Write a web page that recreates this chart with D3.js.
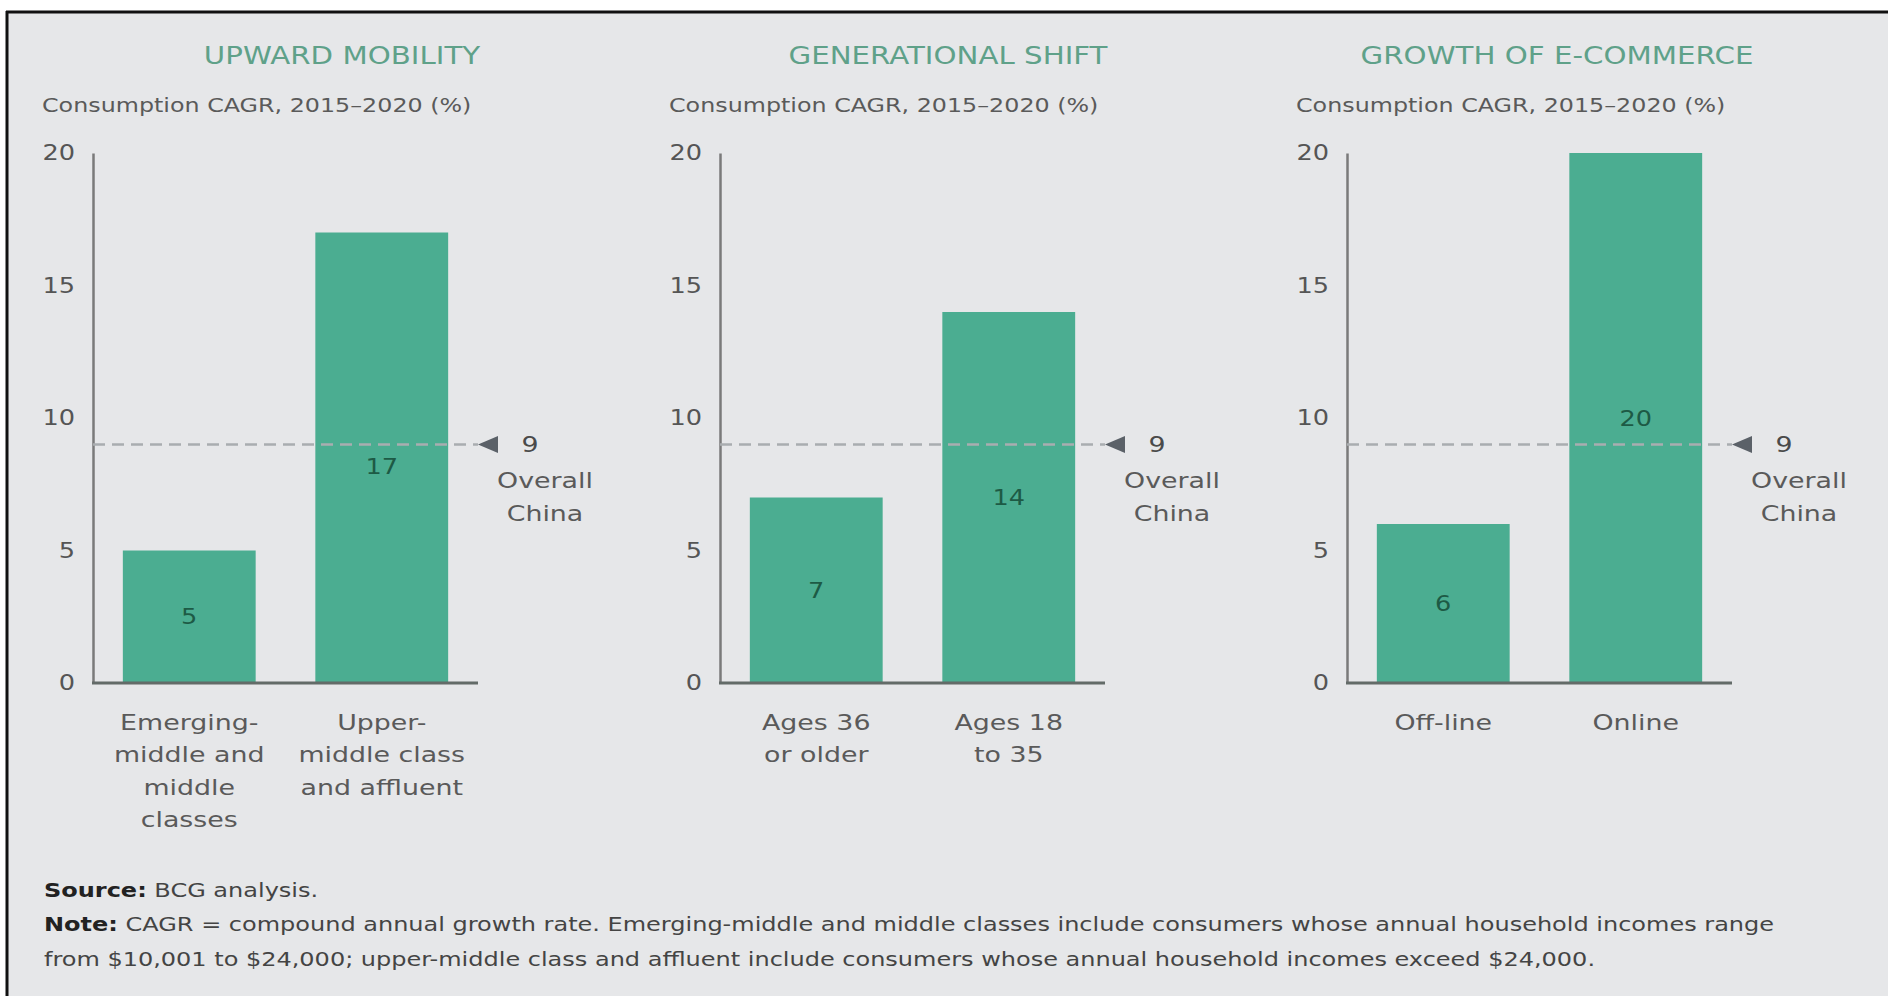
<!DOCTYPE html>
<html>
<head>
<meta charset="utf-8">
<title>China consumption growth drivers</title>
<script src="https://d3js.org/d3.v7.min.js"></script>
<style>
  body { margin: 0; background: #fff; }
  svg { display: block; font-family: "DejaVu Sans", sans-serif; }
</style>
</head>
<body>
<svg id="chart" width="1888" height="996"></svg>
<script>
// data
var panelTitles = ["UPWARD MOBILITY", "GENERATIONAL SHIFT", "GROWTH OF E-COMMERCE"]
var subtitle = "Consumption CAGR, 2015\u20132020 (%)"
var categories = [
  [["Emerging-", "middle and", "middle", "classes"], ["Upper-", "middle class", "and affluent"]],
  [["Ages 36", "or older"], ["Ages 18", "to 35"]],
  [["Off-line"], ["Online"]]
]
var values = [[5, 17], [7, 14], [6, 20]]
var overall = 9
var overallLabel = ["Overall", "China"]
var yTicks = [0, 5, 10, 15, 20]

// layout
var panelX = [93, 720, 1347]      // left edge of each plot area
var titleDx = [249, 228, 210]     // title centres relative to plot area
var plotW = 385
var SX = 1.22                     // the source type is set wide, so stretch text sideways

var svg = d3.select("#chart")

// stretch a text element sideways around its anchor x
function stretch(sel, ax, sx) {
  sel.attr("transform", "translate(" + ax + ",0) scale(" + (sx || SX) + ",1) translate(" + (-ax) + ",0)")
}

// grey card with the black rule on top and left
svg.append("rect").attr("x", 7).attr("y", 12).attr("width", 1881).attr("height", 984).attr("fill", "#e6e7e9")
svg.append("line").attr("x1", 6).attr("x2", 1888).attr("y1", 12).attr("y2", 12).attr("stroke", "#111").attr("stroke-width", 3)
svg.append("line").attr("x1", 7).attr("x2", 7).attr("y1", 11).attr("y2", 996).attr("stroke", "#111").attr("stroke-width", 3)

var y = d3.scaleLinear().domain([0, 20]).range([683, 153])
var x = d3.scaleBand().domain([0, 1]).range([0, plotW]).paddingInner(0.31).paddingOuter(0.155)

panelTitles.forEach(function(title, p) {
  var g = svg.append("g").attr("transform", "translate(" + panelX[p] + ",0)")

  g.append("text")
    .attr("x", titleDx[p]).attr("y", 64)
    .attr("text-anchor", "middle")
    .style("font-size", "24px").style("fill", "#5fa189")
    .text(title)
    .call(stretch, titleDx[p])

  g.append("text")
    .attr("x", -51).attr("y", 112)
    .style("font-size", "19.5px").style("fill", "#5a5a5a")
    .text(subtitle)
    .call(stretch, -51)

  // y axis: line + labels only
  var yAxis = g.append("g").call(d3.axisLeft(y).tickValues(yTicks).tickSize(0).tickPadding(18))
  yAxis.select(".domain").attr("stroke", "#7a7a7a").attr("stroke-width", 2.5)
  yAxis.selectAll("text")
    .style("font-size", "21px").style("fill", "#555").attr("font-family", "DejaVu Sans")
    .call(stretch, -18)

  // bars
  g.selectAll("rect.bar")
    .data(values[p])
    .enter().append("rect")
    .attr("class", "bar")
    .attr("x", function(d, i) { return x(i) })
    .attr("width", x.bandwidth())
    .attr("y", function(d) { return y(d) })
    .attr("height", function(d) { return y(0) - y(d) })
    .attr("fill", "#4bad91")

  // x axis line on top of bars
  g.append("line")
    .attr("x1", -1).attr("x2", plotW)
    .attr("y1", y(0)).attr("y2", y(0))
    .attr("stroke", "#636b68").attr("stroke-width", 3)

  // values inside bars, pushed below the dashed line if they'd collide
  g.selectAll("text.val")
    .data(values[p])
    .enter().append("text")
    .attr("class", "val")
    .attr("x", function(d, i) { return x(i) + x.bandwidth() / 2 })
    .attr("y", function(d) {
      var c = (y(0) + y(d)) / 2
      if (Math.abs(c - y(overall)) < 20) c = y(overall) + 22
      return c
    })
    .attr("dy", "0.36em")
    .attr("text-anchor", "middle")
    .style("font-size", "21px").style("fill", "#1d5a45")
    .text(function(d) { return d })
    .each(function(d, i) { stretch(d3.select(this), x(i) + x.bandwidth() / 2) })

  // category labels
  categories[p].forEach(function(lines, i) {
    var cx = x(i) + x.bandwidth() / 2
    var t = g.append("text")
      .attr("text-anchor", "middle")
      .style("font-size", "22px").style("fill", "#5a5a5a")
    lines.forEach(function(line, k) {
      t.append("tspan")
        .attr("x", cx)
        .attr("y", 730 + k * 32.5)
        .text(line)
    })
    stretch(t, cx)
  })

  // overall China reference
  g.append("line")
    .attr("x1", 0).attr("x2", plotW)
    .attr("y1", y(overall)).attr("y2", y(overall))
    .attr("stroke", "#a9adb0").attr("stroke-width", 2.5)
    .attr("stroke-dasharray", "12,7")

  g.append("path")
    .attr("d", "M" + plotW + "," + y(overall) + "l20,-8.5l0,17z")
    .attr("fill", "#5b6168")

  g.append("text")
    .attr("x", 437).attr("y", y(overall))
    .attr("dy", "0.36em")
    .attr("text-anchor", "middle")
    .style("font-size", "22px").style("fill", "#4a4a4a")
    .text(overall)
    .call(stretch, 437)

  overallLabel.forEach(function(line, k) {
    g.append("text")
      .attr("x", 452).attr("y", 480 + k * 33)
      .attr("dy", "0.36em")
      .attr("text-anchor", "middle")
      .style("font-size", "22px").style("fill", "#5a5a5a")
      .text(line)
      .call(stretch, 452)
  })
})

// footnotes
var notes = [
  [["Source:", true], [" BCG analysis.", false]],
  [["Note:", true], [" CAGR = compound annual growth rate. Emerging-middle and middle classes include consumers whose annual household incomes range", false]],
  [["from $10,001 to $24,000; upper-middle class and affluent include consumers whose annual household incomes exceed $24,000.", false]]
]
notes.forEach(function(parts, k) {
  var t = svg.append("text")
    .attr("x", 44).attr("y", 897 + k * 34.5)
    .style("font-size", "20px").style("fill", "#444")
  parts.forEach(function(pt) {
    t.append("tspan")
      .style("font-weight", pt[1] ? "bold" : "normal")
      .style("fill", pt[1] ? "#222" : "#444")
      .text(pt[0])
  })
  stretch(t, 44, 1.2)
})
</script>
</body>
</html>
